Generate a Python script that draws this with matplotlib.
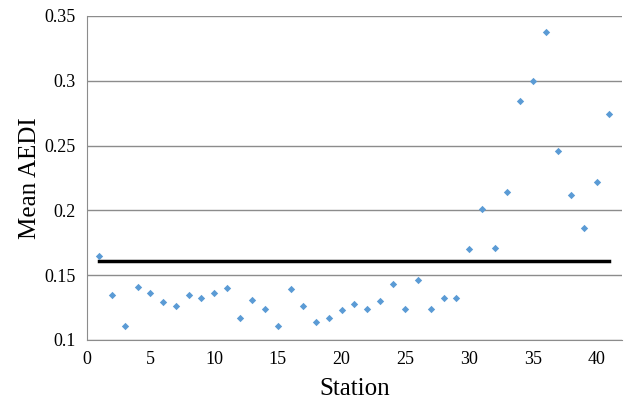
import matplotlib
matplotlib.use("Agg")
import matplotlib.pyplot as plt

station = list(range(1, 42))
mean_aedi = [0.165, 0.135, 0.111, 0.141, 0.136, 0.129, 0.126, 0.135, 0.132, 0.136,
             0.140, 0.117, 0.131, 0.124, 0.111, 0.139, 0.126, 0.114, 0.117, 0.123,
             0.128, 0.124, 0.130, 0.143, 0.124, 0.146, 0.124, 0.132, 0.132, 0.170,
             0.201, 0.171, 0.214, 0.284, 0.300, 0.338, 0.246, 0.212, 0.186, 0.222,
             0.274]
threshold = 0.161

plt.rcParams['font.family'] = ['Liberation Serif', 'DejaVu Serif']

fig = plt.figure(figsize=(6.24, 3.99), dpi=100)
ax = fig.add_axes([0.139, 0.148, 0.858, 0.812])

ax.plot([station[0], station[-1]], [threshold, threshold], color='black', lw=2.5, zorder=2)
ax.scatter(station, mean_aedi, marker='D', s=14, color='#5B9BD5', zorder=3, linewidths=0)

ax.set_xlim(0, 42)
ax.set_ylim(0.1, 0.35)
ax.set_xticks(range(0, 41, 5))
ax.set_yticks([0.1, 0.15, 0.2, 0.25, 0.3, 0.35])
ax.set_yticklabels(['0.1', '0.15', '0.2', '0.25', '0.3', '0.35'])
ax.yaxis.grid(True, color='#8c8c8c', lw=1)
ax.set_axisbelow(True)
for s in ['top', 'right']:
    ax.spines[s].set_visible(False)
for s in ['left', 'bottom']:
    ax.spines[s].set_color('#8c8c8c')
ax.tick_params(length=0, labelsize=13, pad=8)
ax.set_xlabel('Station', fontsize=18, labelpad=7)
ax.set_ylabel('Mean AEDI', fontsize=18, labelpad=2)

fig.savefig('out.png', dpi=100)
